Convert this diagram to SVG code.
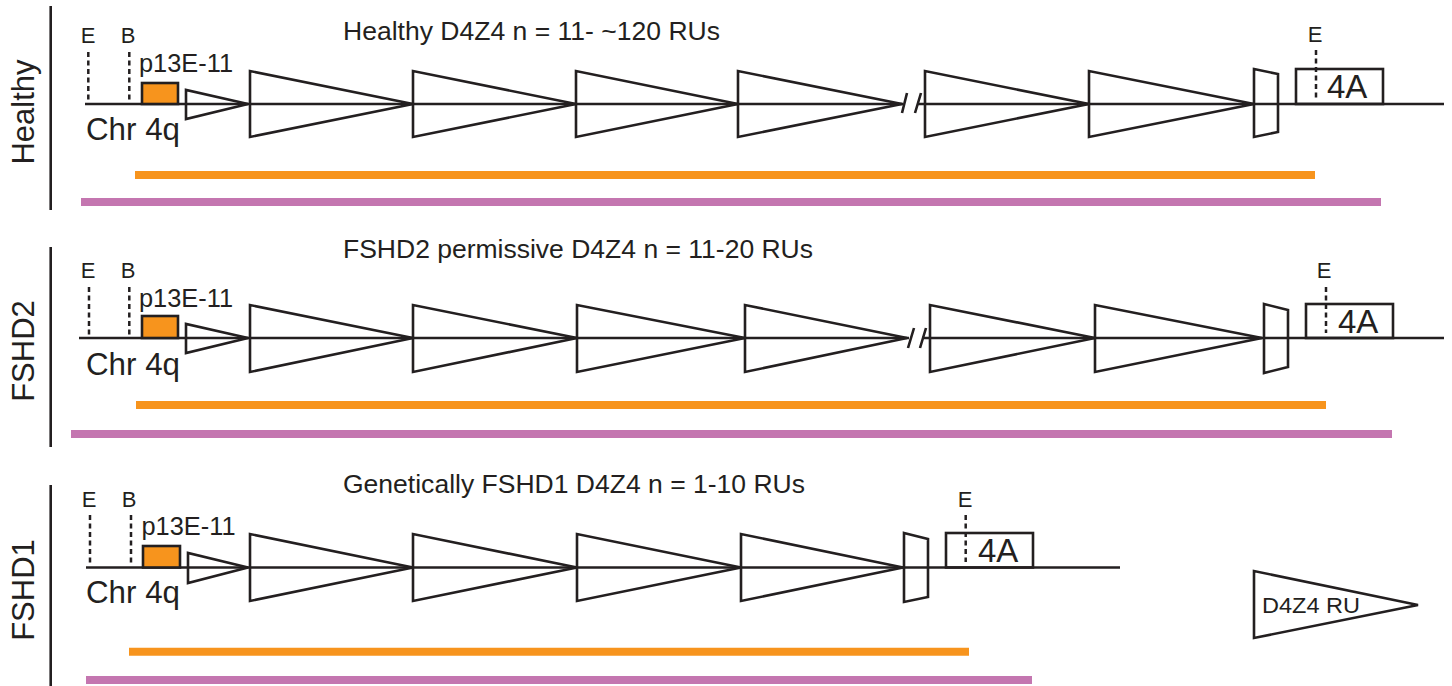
<svg xmlns="http://www.w3.org/2000/svg" width="1452" height="686" viewBox="0 0 1452 686">
<style>
text{font-family:"Liberation Sans",Arial,sans-serif;fill:#231F20}
.ln{stroke:#231F20;stroke-width:2.6;fill:none}
.ru{stroke:#231F20;stroke-width:2.6;fill:none;stroke-linejoin:miter}
.ds{stroke:#231F20;stroke-width:2.5;stroke-dasharray:5 3.5;fill:none}
.ob{fill:#F7941D;stroke:#231F20;stroke-width:2.6}
.bo{stroke:#F7941D;stroke-width:8}
.bp{stroke:#C476B0;stroke-width:8}
.ti{font-size:26px}
.eb{font-size:22px;text-anchor:middle}
.pe{font-size:25px}
.ch{font-size:31px}
.rl{font-size:31px;text-anchor:middle}
.fa{font-size:33px}
</style>
<rect width="1452" height="686" fill="#FFFFFF"/>

<!-- Healthy row -->
<g id="healthy">
  <line class="ln" x1="50.7" y1="6" x2="50.7" y2="210"/>
  <text class="rl" transform="translate(34,112) rotate(-90)">Healthy</text>
  <text class="ti" x="343" y="40" textLength="377" lengthAdjust="spacingAndGlyphs">Healthy D4Z4 n = 11- ~120 RUs</text>
  <text class="eb" x="88" y="43">E</text>
  <text class="eb" x="128" y="43">B</text>
  <line class="ds" x1="88.3" y1="52" x2="88.3" y2="102"/>
  <line class="ds" x1="129.3" y1="52" x2="129.3" y2="102"/>
  <text class="pe" x="139" y="71.5" textLength="94" lengthAdjust="spacingAndGlyphs">p13E-11</text>
  <text class="ch" x="86" y="140" textLength="94" lengthAdjust="spacingAndGlyphs">Chr 4q</text>
  <path class="ln" d="M85 104H903M918 104H1444"/>
  <rect class="ob" x="142" y="83" width="36" height="21"/>
  <polygon class="ru" points="186,90 186,119 248,104"/>
  <polygon class="ru" points="250,71 250,137 413,104"/>
  <polygon class="ru" points="413,71 413,137 576,104"/>
  <polygon class="ru" points="576,71 576,137 738,104"/>
  <polygon class="ru" points="738,71 738,137 902,104"/>
  <path class="ln" d="M907 93L902 113M921 93L915 113"/>
  <polygon class="ru" points="925,71 925,137 1089,104"/>
  <polygon class="ru" points="1089,71 1089,137 1254,104"/>
  <polygon class="ru" points="1254,69 1278,74 1278,132 1254,137"/>
  <rect class="ln" x="1296" y="69" width="87" height="35"/>
  <line class="ds" x1="1316" y1="50" x2="1316" y2="98"/>
  <text class="eb" x="1315" y="42">E</text>
  <text class="fa" x="1327" y="98">4A</text>
  <line class="bo" x1="135" y1="175" x2="1315" y2="175"/>
  <line class="bp" x1="81" y1="202" x2="1381" y2="202"/>
</g>

<!-- FSHD2 row -->
<g id="fshd2">
  <line class="ln" x1="50.7" y1="247" x2="50.7" y2="447"/>
  <text class="rl" transform="translate(34,351) rotate(-90)">FSHD2</text>
  <text class="ti" x="343" y="258" textLength="470" lengthAdjust="spacingAndGlyphs">FSHD2 permissive D4Z4 n = 11-20 RUs</text>
  <text class="eb" x="88" y="278">E</text>
  <text class="eb" x="128" y="278">B</text>
  <line class="ds" x1="89" y1="287" x2="89" y2="336"/>
  <line class="ds" x1="129.3" y1="287" x2="129.3" y2="336"/>
  <text class="pe" x="139" y="306.5" textLength="94" lengthAdjust="spacingAndGlyphs">p13E-11</text>
  <text class="ch" x="86" y="375" textLength="94" lengthAdjust="spacingAndGlyphs">Chr 4q</text>
  <path class="ln" d="M79 338H909M922 338H1444"/>
  <rect class="ob" x="142" y="316" width="36" height="22"/>
  <polygon class="ru" points="186,324 186,353 248,338"/>
  <polygon class="ru" points="250,305 250,372 413,338"/>
  <polygon class="ru" points="413,305 413,372 577,338"/>
  <polygon class="ru" points="577,305 577,372 745,338"/>
  <polygon class="ru" points="745,305 745,372 907,338"/>
  <path class="ln" d="M914 328L908 348M926 328L920 348"/>
  <polygon class="ru" points="930,305 930,372 1095,338"/>
  <polygon class="ru" points="1095,305 1095,372 1262,338"/>
  <polygon class="ru" points="1264,304 1288,310 1288,367 1264,373"/>
  <rect class="ln" x="1306" y="304" width="87" height="34"/>
  <line class="ds" x1="1326" y1="287" x2="1326" y2="333"/>
  <text class="eb" x="1324" y="278">E</text>
  <text class="fa" x="1338" y="333">4A</text>
  <line class="bo" x1="136" y1="405" x2="1326" y2="405"/>
  <line class="bp" x1="71" y1="434" x2="1392" y2="434"/>
</g>

<!-- FSHD1 row -->
<g id="fshd1">
  <line class="ln" x1="50.7" y1="485" x2="50.7" y2="686"/>
  <text class="rl" transform="translate(34,590) rotate(-90)">FSHD1</text>
  <text class="ti" x="343" y="493" textLength="462" lengthAdjust="spacingAndGlyphs">Genetically FSHD1 D4Z4 n = 1-10 RUs</text>
  <text class="eb" x="89" y="507">E</text>
  <text class="eb" x="129" y="507">B</text>
  <line class="ds" x1="90" y1="515" x2="90" y2="565"/>
  <line class="ds" x1="131" y1="515" x2="131" y2="565"/>
  <text class="pe" x="141.5" y="535" textLength="94" lengthAdjust="spacingAndGlyphs">p13E-11</text>
  <text class="ch" x="86" y="603" textLength="94" lengthAdjust="spacingAndGlyphs">Chr 4q</text>
  <path class="ln" d="M86 567.5H1120"/>
  <rect class="ob" x="143" y="546" width="37" height="21.5"/>
  <polygon class="ru" points="188,553 188,583 248,567.5"/>
  <polygon class="ru" points="250,534 250,601 413,567.5"/>
  <polygon class="ru" points="413,534 413,601 577,567.5"/>
  <polygon class="ru" points="577,534 577,601 741,567.5"/>
  <polygon class="ru" points="741,534 741,601 903,567.5"/>
  <polygon class="ru" points="904,533 928,539 928,597 904,602"/>
  <rect class="ln" x="946" y="533" width="87" height="34.5"/>
  <line class="ds" x1="965.7" y1="515" x2="965.7" y2="562"/>
  <text class="eb" x="965" y="507">E</text>
  <text class="fa" x="978" y="562">4A</text>
  <line class="bo" x1="129" y1="651.7" x2="969" y2="651.7"/>
  <line class="bp" x1="86" y1="680" x2="1032" y2="680"/>
</g>

<!-- Legend -->
<g id="legend">
  <polygon class="ru" points="1254,571 1254,638 1418,605"/>
  <text x="1262" y="613" font-size="22" textLength="98" lengthAdjust="spacingAndGlyphs">D4Z4 RU</text>
</g>
<g id="connectors"></g>
</svg>
